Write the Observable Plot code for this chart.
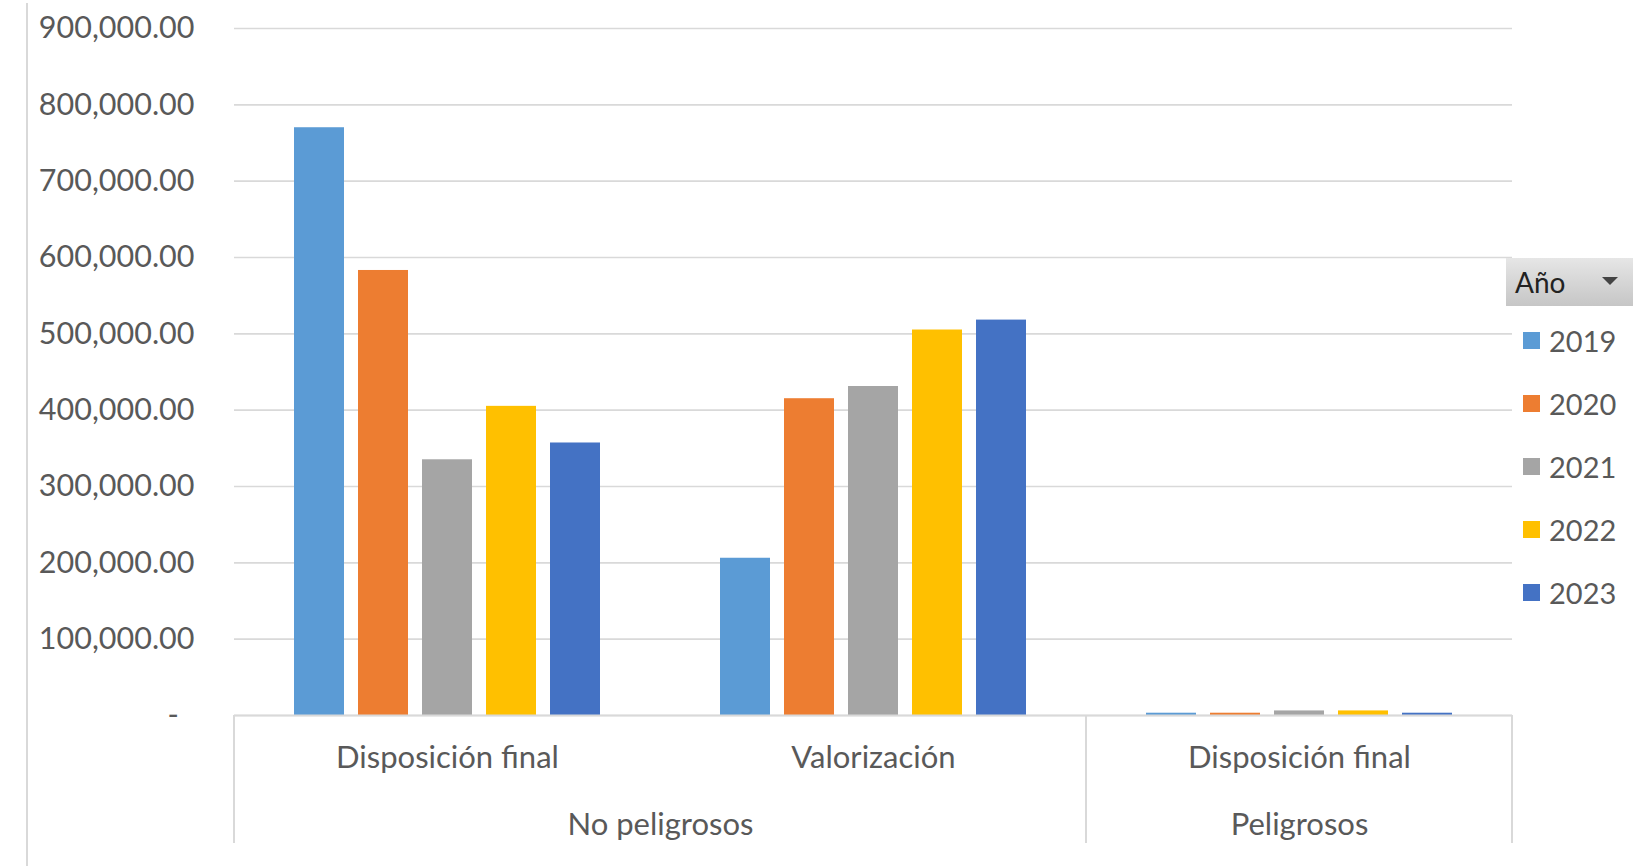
<!DOCTYPE html>
<html>
<head>
<meta charset="utf-8">
<script src="https://cdn.jsdelivr.net/npm/d3@7"></script>
<script src="https://cdn.jsdelivr.net/npm/@observablehq/plot@0.6"></script>
<style>
  html, body { margin: 0; padding: 0; background: #fff; }
  #wrap { position: relative; width: 1652px; height: 866px; overflow: hidden; font-family: Lato, "Open Sans", sans-serif; }
  #frameLine { position: absolute; left: 26px; top: 3px; width: 2px; height: 863px; background: #d9d9d9; }
  #legend { position: absolute; left: 1506px; top: 258px; width: 127px; }
  #legend .hdr { height: 48px; background: linear-gradient(#e6e6e6, #c6c6c6); position: relative; }
  #legend .hdr span { position: absolute; left: 9px; top: 7px; font-size: 28px; color: #222; }
  #legend .hdr i { position: absolute; left: 96px; top: 19px; width: 0; height: 0; border-left: 8px solid transparent; border-right: 8px solid transparent; border-top: 8px solid #444; }
  #legend .item { position: absolute; left: 17px; height: 34px; display: flex; align-items: center; font-size: 29px; color: #595959; }
  #legend .item b { display: inline-block; width: 17px; height: 17px; margin-right: 9px; }
</style>
</head>
<body>
<div id="wrap">
  <div id="frameLine"></div>
  <div id="chart"></div>
  <div id="legend"><div class="hdr"><span>Año</span><i></i></div></div>
</div>
<script>
// ---- data ----
const groups = ["No peligrosos", "No peligrosos", "Peligrosos"];
const categories = ["Disposición final", "Valorización", "Disposición final"];
const years = ["2019", "2020", "2021", "2022", "2023"];
const v2019 = [770000, 206000, 3000];
const v2020 = [583000, 415000, 3000];
const v2021 = [335000, 431000, 6000];
const v2022 = [405000, 505000, 6000];
const v2023 = [357000, 518000, 3000];
const yTicks = [0, 100000, 200000, 300000, 400000, 500000, 600000, 700000, 800000, 900000];
const colors = ["#5B9BD5", "#ED7D31", "#A5A5A5", "#FFC000", "#4472C4"];

// ---- build table ----
const series = [v2019, v2020, v2021, v2022, v2023];
const keys = categories.map((c, i) => groups[i] + "|" + c);
const data = [];
keys.forEach((k, i) => years.forEach((yr, j) => data.push({key: k, year: yr, value: series[j][i]})));
const subLabels = keys.map((k, i) => ({key: k, label: categories[i]}));
const groupNames = Array.from(new Set(groups));
const spanLabels = [], singleLabels = [];
groupNames.forEach(g => {
  const idx = groups.map((x, i) => x === g ? i : -1).filter(i => i >= 0);
  if (idx.length === 2) spanLabels.push({key: keys[idx[0]], label: g});
  else singleLabels.push({key: keys[idx[0]], label: g});
});

const fmt = d => d === 0 ? "-\u00a0\u00a0" : d3.format(",.2f")(d);
const textColor = "#595959";

const chart = Plot.plot({
  width: 1652,
  height: 866,
  marginLeft: 233,
  marginRight: 140,
  marginTop: 28,
  marginBottom: 151,
  style: {fontFamily: "Lato, 'Open Sans', sans-serif", fontSize: "30px", color: textColor, background: "transparent"},
  fx: {domain: keys, padding: 0, axis: null},
  x: {domain: years, paddingInner: 0.215, paddingOuter: 0.885, axis: null},
  y: {domain: [0, 900000], axis: null},
  color: {domain: years, range: colors},
  marks: [
    Plot.gridY(yTicks, {stroke: "#d9d9d9", strokeOpacity: 1, strokeWidth: 1.6}),
    Plot.axisY(yTicks, {label: null, tickSize: 0, tickPadding: 40, tickFormat: fmt, fontSize: 30.5, fill: textColor}),
    Plot.barY(data, {fx: "key", x: "year", y: "value", fill: "year"}),
    Plot.ruleY([0], {stroke: "#d9d9d9", strokeWidth: 2}),
    Plot.text(subLabels, {fx: "key", text: "label", frameAnchor: "bottom", lineAnchor: "middle", dy: 43, fontSize: 31, fill: textColor}),
    Plot.text(spanLabels, {fx: "key", text: "label", frameAnchor: "bottom-right", textAnchor: "middle", lineAnchor: "middle", dy: 110, fontSize: 31, fill: textColor}),
    Plot.text(singleLabels, {fx: "key", text: "label", frameAnchor: "bottom", lineAnchor: "middle", dy: 110, fontSize: 31, fill: textColor})
  ]
});
document.getElementById("chart").appendChild(chart);

// category-axis separators, placed through the plot's own scales
const fxS = chart.scale("fx");
const yS = chart.scale("y");
const y0 = yS.apply(0);
const sepX = [];
groupNames.forEach(g => {
  const idx = groups.map((x, i) => x === g ? i : -1).filter(i => i >= 0);
  sepX.push(fxS.apply(keys[idx[0]]));
});
sepX.push(fxS.apply(keys[keys.length - 1]) + fxS.bandwidth);
const svg = d3.select(chart);
svg.append("g").selectAll("line").data(sepX).join("line")
  .attr("x1", d => d).attr("x2", d => d)
  .attr("y1", y0).attr("y2", y0 + 128)
  .attr("stroke", "#d9d9d9").attr("stroke-width", 2);

// legend
const legend = document.getElementById("legend");
years.forEach((yr, i) => {
  const it = document.createElement("div");
  it.className = "item";
  it.style.top = (65 + i * 63) + "px";
  it.innerHTML = `<b style="background:${colors[i]}"></b>${yr}`;
  legend.appendChild(it);
});
</script>
</body>
</html>
